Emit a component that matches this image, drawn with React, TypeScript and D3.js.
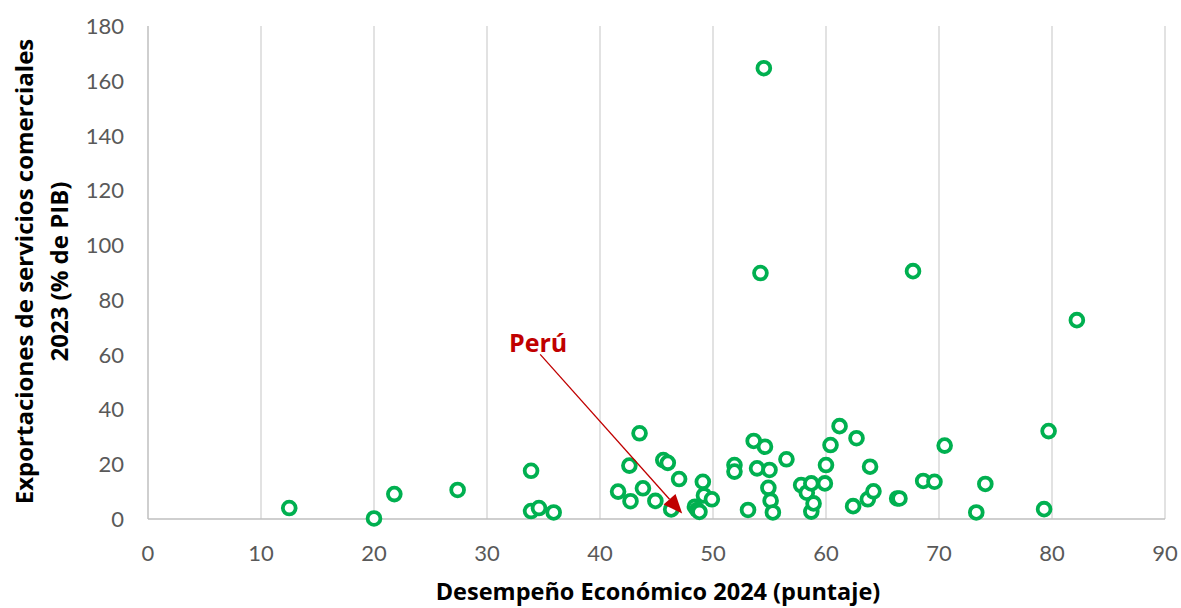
import React from "react";
import * as d3 from "d3";

const xValues = [
  12.5, 20.0, 21.8, 27.4, 33.9, 33.9, 34.6, 35.9,
  41.6, 42.6, 42.7, 43.5, 43.8, 44.9, 45.6, 46.0, 46.3, 47.0,
  48.4, 48.6, 48.8, 49.1, 49.2, 49.9,
  51.9, 51.9, 53.1, 53.6, 53.9, 54.2, 54.5, 54.6, 54.9, 55.0, 55.1, 55.3,
  56.5, 57.8, 58.3, 58.7, 58.7, 58.9, 59.9, 60.0, 60.4, 61.2,
  62.4, 62.7, 63.7, 63.9, 64.2, 66.3, 66.5, 67.7, 68.6, 69.6, 70.5,
  73.3, 74.1, 79.3, 79.7, 82.2,
];
const yValues = [
  4.0, 0.2, 9.1, 10.6, 17.6, 2.9, 4.0, 2.4,
  10.0, 19.5, 6.5, 31.3, 11.2, 6.6, 21.5, 20.5, 3.5, 14.6,
  4.5, 3.3, 2.6, 13.6, 8.6, 7.2,
  19.7, 17.3, 3.3, 28.5, 18.5, 89.8, 164.6, 26.4, 11.4, 17.9, 6.7, 2.4,
  21.8, 12.4, 9.6, 13.0, 2.7, 5.7, 13.0, 19.7, 27.0, 33.9,
  4.7, 29.5, 7.2, 19.1, 10.1, 7.5, 7.5, 90.5, 13.9, 13.6, 26.8,
  2.4, 12.8, 3.6, 32.1, 72.6,
];
const peruIndex = 16;

const xTicks = [0, 10, 20, 30, 40, 50, 60, 70, 80, 90];
const yTicks = [0, 20, 40, 60, 80, 100, 120, 140, 160, 180];

const xTitle = "Desempeño Económico 2024 (puntaje)";
const yTitleLines = ["Exportaciones de servicios comerciales", "2023 (% de PIB)"];
const peruLabel = "Perú";

const W = 1181;
const H = 608;
const M = { left: 148, right: 1165, top: 26, bottom: 519 };
const TICKFONT = "Lato, 'Open Sans', sans-serif";
const FONT = "'Open Sans', Lato, sans-serif";
const GREEN = "#00B050";
const RED = "#C00000";

export default function App() {
  const x = d3.scaleLinear().domain([0, 90]).range([M.left, M.right]);
  const y = d3.scaleLinear().domain([0, 180]).range([M.bottom, M.top]);
  const points = xValues.map((v, i) => ({ x: v, y: yValues[i] }));
  const peru = points[peruIndex];
  const px = x(peru.x);
  const py = y(peru.y);
  const tip = { x: px + 11, y: py + 4 };
  const start = { x: px - 131, y: py - 155 };
  const ang = Math.atan2(tip.y - start.y, tip.x - start.x);
  const hl = 19, hw = 8;
  const bx = tip.x - hl * Math.cos(ang), by = tip.y - hl * Math.sin(ang);
  const head = [
    [tip.x, tip.y],
    [bx + hw * Math.sin(ang), by - hw * Math.cos(ang)],
    [bx - hw * Math.sin(ang), by + hw * Math.cos(ang)],
  ];
  const cy = (M.top + M.bottom) / 2 - 1;
  return (
    <svg width={W} height={H} style={{ position: "absolute", left: 0, top: 0, background: "#fff" }}>
      {xTicks.slice(1).map((t) => (
        <line key={"g" + t} x1={x(t)} x2={x(t)} y1={M.top} y2={M.bottom} stroke="#d9d9d9" strokeWidth={1.5} />
      ))}
      <line x1={M.left} x2={M.left} y1={M.top} y2={M.bottom} stroke="#bfbfbf" strokeWidth={1.5} />
      <line x1={M.left} x2={M.right} y1={M.bottom} y2={M.bottom} stroke="#bfbfbf" strokeWidth={1.5} />
      {xTicks.map((t) => (
        <text key={"x" + t} x={x(t)} y={561} textAnchor="middle" fontFamily={TICKFONT} fontSize={22} fill="#595959">{t}</text>
      ))}
      {yTicks.map((t) => (
        <text key={"y" + t} x={124} y={y(t) + 8} textAnchor="end" fontFamily={TICKFONT} fontSize={22} fill="#595959">{t}</text>
      ))}
      {points.map((p, i) => (
        <circle key={i} cx={x(p.x)} cy={y(p.y)} r={6.4} fill="#fff" stroke={GREEN} strokeWidth={3.8} />
      ))}
      <line x1={start.x} y1={start.y} x2={bx} y2={by} stroke={RED} strokeWidth={1.3} />
      <polygon points={head.map((p) => p.join(",")).join(" ")} fill={RED} />
      <text x={start.x - 2} y={start.y - 2} textAnchor="middle" fontFamily={FONT} fontSize={25} fontWeight="bold" fill={RED}>{peruLabel}</text>
      <text x={658} y={600} textAnchor="middle" fontFamily={FONT} fontSize={23.5} fontWeight="bold" fill="#000">{xTitle}</text>
      {yTitleLines.map((s, i) => (
        <text key={s} transform={`translate(${33 + i * 35},${cy}) rotate(-90)`} textAnchor="middle" fontFamily={FONT} fontSize={24} fontWeight="bold" fill="#000">{s}</text>
      ))}
    </svg>
  );
}
